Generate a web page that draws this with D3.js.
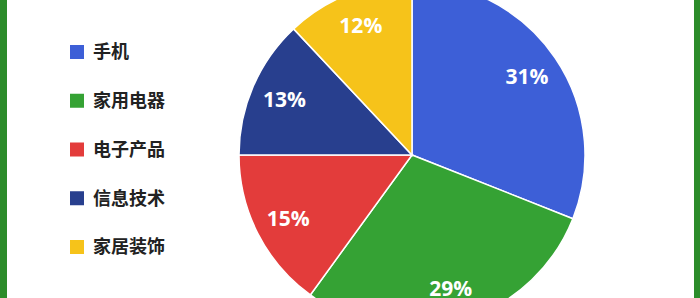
<!DOCTYPE html>
<html>
<head>
<meta charset="utf-8">
<script src="https://cdn.jsdelivr.net/npm/d3@7"></script>
<style>
  html, body { margin: 0; padding: 0; background: #fff; }
  svg { display: block; }
</style>
</head>
<body>
<svg id="chart"></svg>
<script>
const width = 700;
const height = 298;

// Chart data
const categories = ['手机', '家用电器', '电子产品', '信息技术', '家居装饰'];
const shares = [31, 29, 15, 13, 12];
const colors = ['#3d5fd7', '#35a234', '#e33c3b', '#283f8e', '#f6c31a'];

const center = {x: 412, y: 155};
const radius = 173;
const labelRadius = 139;
const borderGreen = '#2c8c2a';

const svg = d3.select('#chart')
  .attr('width', width)
  .attr('height', height);

// Green side borders
svg.append('rect')
  .attr('x', 0).attr('y', 0)
  .attr('width', 7).attr('height', height)
  .attr('fill', borderGreen);
svg.append('rect')
  .attr('x', 694).attr('y', 0)
  .attr('width', 6).attr('height', height)
  .attr('fill', borderGreen);

const pie = d3.pie().sort(null).value((d) => d);
const arcs = pie(shares);
const arc = d3.arc().innerRadius(0).outerRadius(radius);
const labelArc = d3.arc().innerRadius(labelRadius).outerRadius(labelRadius);

const g = svg.append('g')
  .attr('transform', `translate(${center.x}, ${center.y})`);

g.selectAll('path')
  .data(arcs)
  .join('path')
  .attr('d', arc)
  .attr('fill', (d, i) => colors[i])
  .attr('stroke', '#fff')
  .attr('stroke-width', 1.5);

// Percentage labels inside the slices
g.selectAll('text')
  .data(arcs)
  .join('text')
  .attr('transform', (d) => `translate(${labelArc.centroid(d)})`)
  .attr('text-anchor', 'middle')
  .attr('dy', '0.36em')
  .attr('fill', '#fff')
  .attr('font-family', '"Open Sans", "Noto Sans", sans-serif')
  .attr('font-weight', 'bold')
  .attr('font-size', '21px')
  .text((d) => d.data + '%');

// Legend
const legendY = d3.scalePoint()
  .domain(categories)
  .range([52, 247]);

const legend = svg.append('g');
const item = legend.selectAll('g')
  .data(categories)
  .join('g')
  .attr('transform', (d) => `translate(70, ${legendY(d)})`);

item.append('rect')
  .attr('x', 0)
  .attr('y', -7)
  .attr('width', 14)
  .attr('height', 14)
  .attr('fill', (d, i) => colors[i]);

item.append('text')
  .attr('x', 23)
  .attr('dy', '0.36em')
  .attr('fill', '#222')
  .attr('font-family', '"Noto Sans CJK SC", sans-serif')
  .attr('font-weight', 'bold')
  .attr('font-size', '18px')
  .text((d) => d);
</script>
</body>
</html>
